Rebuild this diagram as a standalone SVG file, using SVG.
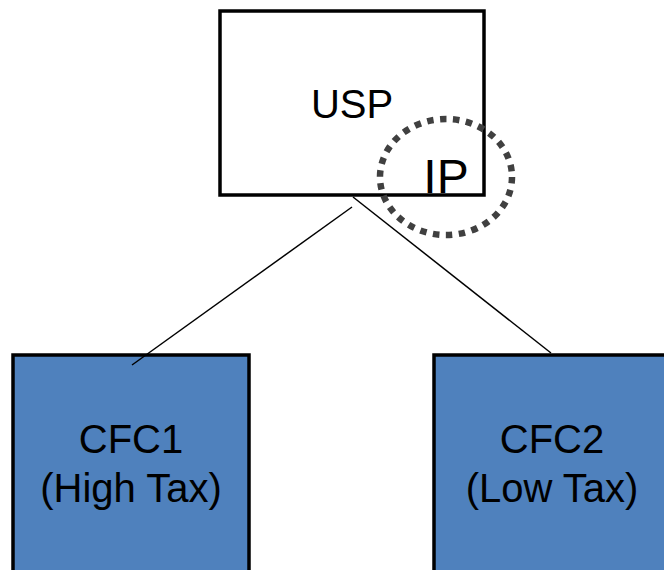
<svg xmlns="http://www.w3.org/2000/svg" width="664" height="570" viewBox="0 0 664 570">
<style>
.lbl{font-family:"Liberation Sans",Arial,sans-serif;fill:#000;text-anchor:middle}
.cfc{fill:#4F81BD;stroke:#000;stroke-width:3.5}
.conn{stroke:#000;stroke-width:1.5;fill:none}
</style>
<rect width="664" height="570" fill="#fff"/>
<g id="usp">
<rect x="220" y="11" width="264" height="184" fill="#fff" stroke="#000" stroke-width="3.5"/>
<text class="lbl" x="352" y="118" font-size="40">USP</text>
</g>
<g id="ip">
<ellipse cx="446" cy="177" rx="66" ry="58" fill="none" stroke="#404040" stroke-width="6.5" stroke-dasharray="6.5 6.5"/>
<text class="lbl" x="446" y="193" font-size="48">IP</text>
</g>
<g id="cfc1">
<rect class="cfc" x="13" y="355" width="236" height="230"/>
<text class="lbl" x="131" y="453" font-size="40">CFC1</text>
<text class="lbl" x="131" y="502" font-size="40">(High Tax)</text>
</g>
<g id="cfc2">
<rect class="cfc" x="434" y="355" width="250" height="230"/>
<text class="lbl" x="552" y="453" font-size="40">CFC2</text>
<text class="lbl" x="552" y="502" font-size="40">(Low Tax)</text>
</g>
<g id="connectors">
<line class="conn" x1="352" y1="207" x2="132" y2="365"/>
<line class="conn" x1="353" y1="197" x2="551" y2="353"/>
</g>
</svg>
